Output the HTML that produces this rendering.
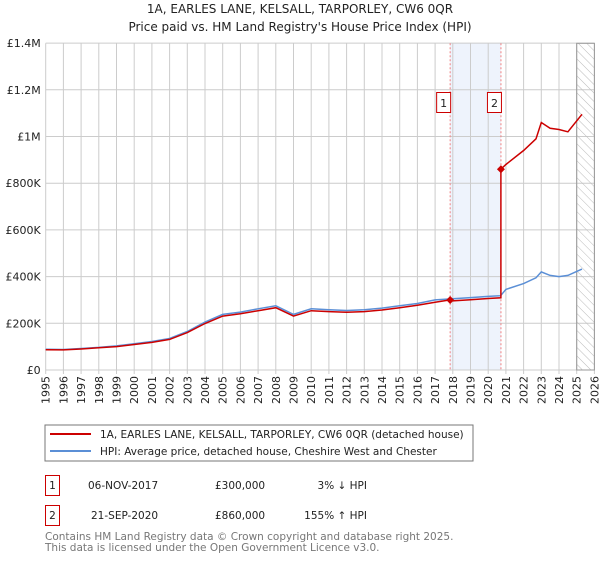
<!DOCTYPE html>
<html><head><meta charset="utf-8"><style>
body{margin:0;background:#fff;font-family:"DejaVu Sans","Liberation Sans",sans-serif;}
svg text{font-family:"DejaVu Sans","Liberation Sans",sans-serif;}
</style></head><body>
<svg id="c" width="600" height="560" xmlns="http://www.w3.org/2000/svg">
<defs><pattern id="hatch" width="6" height="6" patternUnits="userSpaceOnUse" patternTransform="rotate(-45)"><line x1="0" y1="0" x2="0" y2="6" stroke="#bbb" stroke-width="1"/></pattern></defs>
<text x="300" y="13" text-anchor="middle" font-size="12" fill="#222">1A, EARLES LANE, KELSALL, TARPORLEY, CW6 0QR</text>
<text x="300" y="31" text-anchor="middle" font-size="12" fill="#222">Price paid vs. HM Land Registry's House Price Index (HPI)</text>
<g id="plot"></g>
<rect x="45" y="425" width="428" height="36" fill="#fff" stroke="#777"/>
<line x1="50" y1="434" x2="91" y2="434" stroke="#cc0000" stroke-width="2"/>
<text x="100" y="438" font-size="10.5" fill="#222">1A, EARLES LANE, KELSALL, TARPORLEY, CW6 0QR (detached house)</text>
<line x1="50" y1="451" x2="91" y2="451" stroke="#5b8fd6" stroke-width="2"/>
<text x="100" y="455" font-size="10.5" fill="#222">HPI: Average price, detached house, Cheshire West and Chester</text>
<g font-size="10.5" fill="#222">
<rect x="45.5" y="475.5" width="14" height="20" fill="#fff" stroke="#cc0000"/>
<text x="52.5" y="489" text-anchor="middle">1</text>
<text x="88" y="489">06-NOV-2017</text>
<text x="215" y="489">£300,000</text>
<text x="367" y="489" text-anchor="end">3% ↓ HPI</text>
<rect x="45.5" y="505.5" width="14" height="20" fill="#fff" stroke="#cc0000"/>
<text x="52.5" y="519" text-anchor="middle">2</text>
<text x="91" y="519">21-SEP-2020</text>
<text x="215" y="519">£860,000</text>
<text x="367" y="519" text-anchor="end">155% ↑ HPI</text>
</g>
<text x="45" y="540" font-size="10.5" fill="#777">Contains HM Land Registry data © Crown copyright and database right 2025.</text>
<text x="45" y="551" font-size="10.5" fill="#777">This data is licensed under the Open Government Licence v3.0.</text>
</svg>
<script>
const hpiYears=[1995,1996,1997,1998,1999,2000,2001,2002,2003,2004,2005,2006,2007,2008,2009,2010,2011,2012,2013,2014,2015,2016,2017,2018,2019,2020,2020.7,2021,2022,2022.7,2023,2023.5,2024,2024.5,2025.3];
const hpiValues=[89000,88000,92000,97000,103000,112000,122000,135000,165000,205000,238000,248000,262000,275000,238000,262000,258000,255000,258000,265000,275000,285000,300000,305000,310000,315000,318000,345000,370000,395000,420000,405000,400000,405000,432000];
const redYears=[1995,1996,1997,1998,1999,2000,2001,2002,2003,2004,2005,2006,2007,2008,2009,2010,2011,2012,2013,2014,2015,2016,2017,2017.85,2018,2019,2020,2020.72,2020.72,2021,2022,2022.7,2023,2023.5,2024,2024.5,2025.3];
const redValues=[87000,86000,90000,95000,100000,109000,118000,131000,160000,199000,231000,241000,254000,267000,231000,254000,250000,247000,250000,257000,267000,277000,290000,300000,296000,301000,306000,309000,860000,880000,940000,990000,1060000,1035000,1030000,1020000,1095000];
const sales=[{n:'1',year:2017.85,value:300000},{n:'2',year:2020.72,value:860000}];
const yTicks=[0,200000,400000,600000,800000,1000000,1200000,1400000];
const yLabels=['£0','£200K','£400K','£600K','£800K','£1M','£1.2M','£1.4M'];
const xTicks=[1995,1996,1997,1998,1999,2000,2001,2002,2003,2004,2005,2006,2007,2008,2009,2010,2011,2012,2013,2014,2015,2016,2017,2018,2019,2020,2021,2022,2023,2024,2025,2026];

const X0=45.7,PX=17.7,Y0=370,PY=46.7/200000,TOP=43.3,RIGHT=X0+31*PX;
const x=y=>X0+(y-1995)*PX, y=v=>Y0-v*PY;
const NS='http://www.w3.org/2000/svg', g=document.getElementById('plot');
function mk(t,a){const e=document.createElementNS(NS,t);for(const k in a)e.setAttribute(k,a[k]);g.appendChild(e);return e;}
let e;
e=mk('rect',{x:x(sales[0].year),y:TOP,width:x(sales[1].year)-x(sales[0].year),height:Y0-TOP,fill:'#eef3fc'});


xTicks.forEach(t=>{
 e=mk('line',{x1:x(t),x2:x(t),y1:TOP,y2:Y0+4,stroke:'#ccc','stroke-width':1});
 
 
 const lx=x(t)+4,ly=Y0+6;
 e=mk('text',{x:lx,y:ly,'text-anchor':'end','font-size':11,fill:'#222',transform:`rotate(-90 ${lx} ${ly})`});e.textContent=t;
 
 
});
yTicks.forEach((t,i)=>{
 e=mk('line',{x1:X0,x2:RIGHT,y1:y(t),y2:y(t),stroke:'#ccc','stroke-width':1});
 
 
 e=mk('text',{x:X0-5,y:y(t)+4,'text-anchor':'end','font-size':11,fill:'#222'});e.textContent=yLabels[i];
 
 
});
e=mk('rect',{x:x(2025),y:TOP,width:RIGHT-x(2025),height:Y0-TOP,fill:'url(#hatch)',stroke:'#999'});


sales.forEach(s=>{
 e=mk('line',{x1:x(s.year),x2:x(s.year),y1:TOP,y2:Y0,stroke:'#f08080','stroke-dasharray':'2,2','stroke-width':1});
 
 
});
e=mk('path',{d:hpiYears.map((t,i)=>(i?'L':'M')+x(t).toFixed(1)+','+y(hpiValues[i]).toFixed(1)).join(''),fill:'none',stroke:'#5b8fd6','stroke-width':1.5});


e=mk('path',{d:redYears.map((t,i)=>(i?'L':'M')+x(t).toFixed(1)+','+y(redValues[i]).toFixed(1)).join(''),fill:'none',stroke:'#cc0000','stroke-width':1.5});


sales.forEach(s=>{
 const cx=x(s.year),cy=y(s.value);
 e=mk('path',{d:`M${cx-4},${cy}L${cx},${cy-4}L${cx+4},${cy}L${cx},${cy+4}Z`,fill:'#cc0000'});
 
 
 e=mk('rect',{x:cx-13.5,y:92.5,width:14,height:20,fill:'#fff',stroke:'#cc0000'});
 
 
 e=mk('text',{x:cx-6.5,y:107,'text-anchor':'middle','font-size':11,fill:'#222'});e.textContent=s.n;
 
 
});
</script>
</body></html>
